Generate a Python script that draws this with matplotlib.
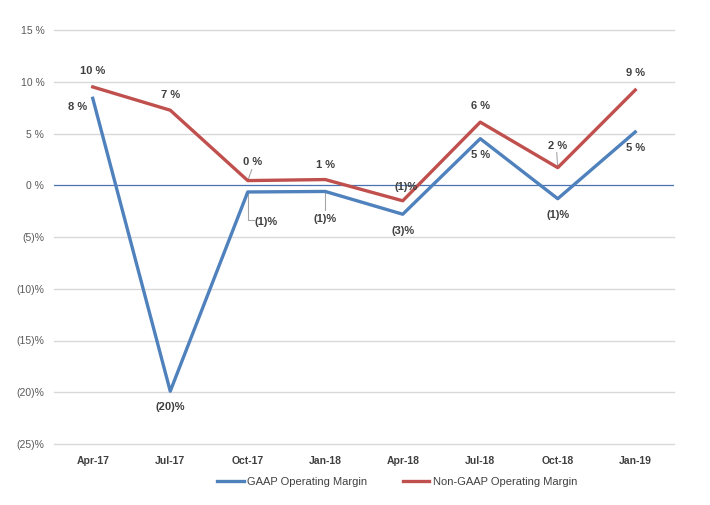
import matplotlib
matplotlib.use("Agg")
import matplotlib.pyplot as plt

quarters = ["Apr-17", "Jul-17", "Oct-17", "Jan-18", "Apr-18", "Jul-18", "Oct-18", "Jan-19"]
gaap = [8.4, -19.9, -0.65, -0.6, -2.8, 4.5, -1.3, 5.15]
non_gaap = [9.5, 7.25, 0.45, 0.55, -1.5, 6.1, 1.7, 9.2]
gaap_labels = ["8 %", "(20)%", "(1)%", "(1)%", "(3)%", "5 %", "(1)%", "5 %"]
non_gaap_labels = ["10 %", "7 %", "0 %", "1 %", "(1)%", "6 %", "2 %", "9 %"]
y_ticks = [15, 10, 5, 0, -5, -10, -15, -20, -25]
y_tick_labels = ["15 %", "10 %", "5 %", "0 %", "(5)%", "(10)%", "(15)%", "(20)%", "(25)%"]

# label offsets in pixels (dx, dy) from the point
gaap_off = [(-15, -9), (0, -16), (18, -30), (0, -28), (0, -17), (0, -16), (0, -16), (0, -16)]
non_gaap_off = [(0, 16), (0, 15), (5, 19), (0, 15), (3, 14), (0, 16), (0, 22), (0, 17)]

BLUE = "#4F81BD"
RED = "#C0504D"
TXT = "#404040"

plt.rcParams["font.family"] = ["Liberation Sans", "DejaVu Sans"]

fig = plt.figure(figsize=(7.1, 5.05), dpi=100)
ax = fig.add_axes([54 / 710, 61 / 505, 620 / 710, 414 / 505])

x = list(range(len(quarters)))
ax.set_xlim(-0.5, len(quarters) - 0.5)
ax.set_ylim(-25, 15)

for yt in y_ticks:
    if yt != 0:
        ax.axhline(yt, color="#D9D9D9", lw=1, zorder=0, clip_on=False)
ax.axhline(0, color="#4A72B0", lw=0.9, zorder=1)

ax.plot(x, gaap, color=BLUE, lw=2.4, label="GAAP Operating Margin", zorder=3)
ax.plot(x, non_gaap, color=RED, lw=2.4, label="Non-GAAP Operating Margin", zorder=3)

def add_labels(vals, labels, offs):
    for i, (v, lab, off) in enumerate(zip(vals, labels, offs)):
        ax.annotate(lab, (i, v), xytext=off, textcoords="offset pixels",
                    ha="center", va="center", fontsize=8, fontweight="bold",
                    color=TXT, zorder=5)

add_labels(gaap, gaap_labels, gaap_off)
add_labels(non_gaap, non_gaap_labels, non_gaap_off)

# leader lines (pixel offsets from points)
def leader(i, v, pts):
    px, py = ax.transData.transform((i, v))
    inv = ax.transData.inverted()
    xs, ys = zip(*[inv.transform((px + dx, py + dy)) for dx, dy in pts])
    ax.plot(xs, ys, color="#A6A6A6", lw=0.8, zorder=2)

fig.canvas.draw()
leader(2, gaap[2], [(0, 0), (0, -28), (6, -28)])
leader(3, gaap[3], [(0, 0), (0, -19)])
leader(2, non_gaap[2], [(0, 0), (4, 11)])
leader(6, non_gaap[6], [(0, 0), (-1, 15)])

ax.set_xticks(x)
ax.set_xticklabels(quarters, fontsize=7.5, fontweight="bold", color=TXT)
ax.set_yticks(y_ticks)
ax.set_yticklabels(y_tick_labels, fontsize=7.5, color="#595959")
ax.tick_params(length=0, axis="x", pad=9)
ax.tick_params(length=0, axis="y", pad=7)
for s in ax.spines.values():
    s.set_visible(False)

fig.legend(loc="center", bbox_to_anchor=(397 / 710, 1 - 482 / 505), ncol=2,
           frameon=False, fontsize=8, handlelength=2.4, handletextpad=0.3,
           columnspacing=3.2, labelcolor=TXT)

fig.savefig("out.png", dpi=100)
